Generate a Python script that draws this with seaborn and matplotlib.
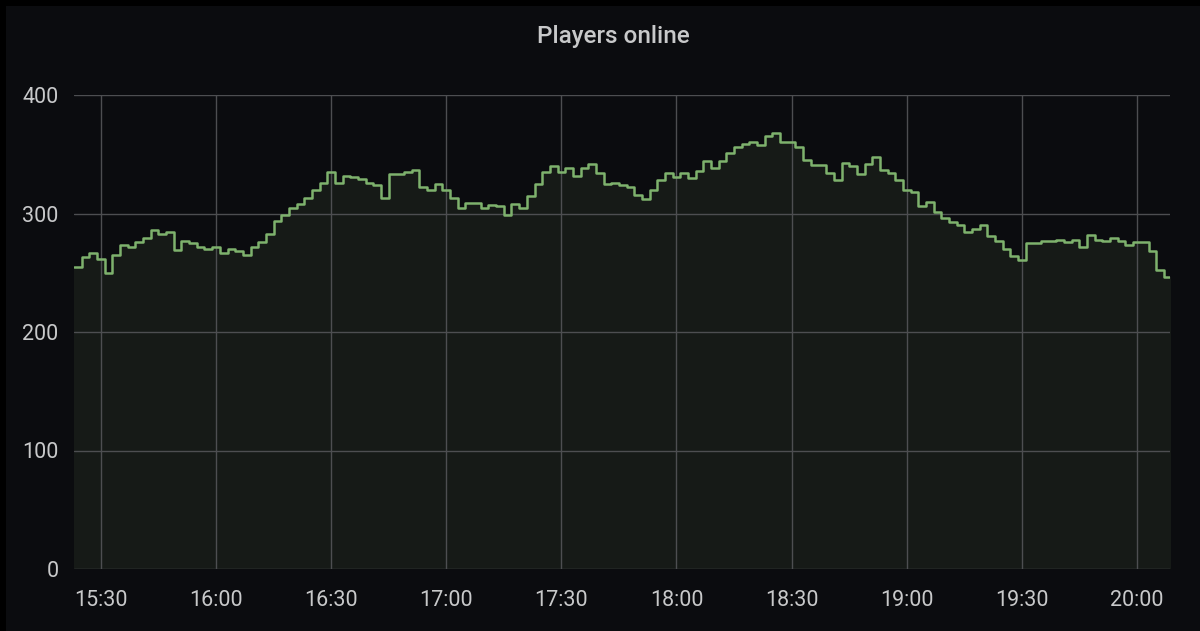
import numpy as np
import pandas as pd
import matplotlib
matplotlib.use("Agg")
import matplotlib.pyplot as plt
import matplotlib.dates as mdates
from matplotlib.patches import Rectangle
import seaborn as sns

# ---- data (players online, sampled every 2 minutes from 15:23) ----
start_time = "2024-01-01 15:23"
step_minutes = 2
players = [
    255, 263, 267, 262, 250, 265, 273, 272, 276, 279,
    286, 283, 284, 269, 277, 275, 272, 270, 272, 267,
    270, 268, 265, 272, 276, 283, 294, 299, 305, 308,
    313, 320, 326, 335, 326, 332, 331, 329, 326, 324,
    313, 333, 333, 335, 337, 322, 320, 325, 320, 313,
    305, 309, 309, 305, 307, 306, 299, 308, 305, 315,
    325, 335, 340, 335, 338, 332, 338, 342, 334, 325,
    326, 324, 322, 316, 312, 320, 328, 334, 331, 334,
    330, 336, 344, 338, 344, 351, 356, 359, 360, 358,
    365, 368, 360, 360, 356, 345, 341, 341, 334, 328,
    343, 340, 333, 342, 348, 337, 334, 328, 320, 318,
    306, 310, 301, 296, 293, 290, 284, 287, 290, 281,
    277, 270, 264, 261, 275, 275, 277, 277, 278, 276,
    278, 272, 282, 278, 277, 279, 277, 273, 276, 276,
    268, 252, 246, 242,
]
y_ticks = [0, 100, 200, 300, 400]
title_text = "Players online"

times = pd.date_range(start_time, periods=len(players), freq=f"{step_minutes}min")
df = pd.DataFrame({"time": times, "players": players})

BG = "#0b0c0f"
GRID = "#4d4e51"
TEXT = "#c8c9ca"
LINE = "#7eb26d"
FILL = "#161a17"

sns.set_theme(style="dark")
plt.rcParams["font.family"] = ["Roboto", "DejaVu Sans"]

fig = plt.figure(figsize=(12, 6.31), dpi=100, facecolor=BG)
# thin black frame around the panel (top and left)
fig.patches.append(Rectangle((0, 0), 6 / 1200, 1, transform=fig.transFigure,
                             facecolor="#000000", edgecolor="none", zorder=-10))
fig.patches.append(Rectangle((0, 1 - 6 / 631), 1, 6 / 631, transform=fig.transFigure,
                             facecolor="#000000", edgecolor="none", zorder=-10))
ax = fig.add_axes([74 / 1200, 1 - 569 / 631, (1170 - 74) / 1200, (569 - 95) / 631])
ax.set_facecolor(BG)

ax.fill_between(df["time"], df["players"], 0, step="post", color=FILL,
                linewidth=0, zorder=1)
sns.lineplot(data=df, x="time", y="players", ax=ax, color=LINE,
             linewidth=1.8, drawstyle="steps-post", zorder=3)

t_end = pd.Timestamp(start_time) + pd.Timedelta(minutes=285.6)
ax.set_xlim(times[0], t_end)
ax.set_ylim(0, 400)
ax.set_yticks(y_ticks)
ax.xaxis.set_major_locator(mdates.MinuteLocator(byminute=[0, 30]))
ax.xaxis.set_major_formatter(mdates.DateFormatter("%H:%M"))

ax.grid(True, color=GRID, linewidth=1.0, zorder=2)
ax.set_axisbelow(False)
for s in ax.spines.values():
    s.set_visible(False)
ax.tick_params(axis="both", colors=TEXT, labelsize=15.5, length=0)
ax.tick_params(axis="x", pad=15)
ax.tick_params(axis="y", pad=11)
ax.set_xlabel("")
ax.set_ylabel("")

fig.text(613 / 1200, 1 - 37 / 631, title_text, color=TEXT, fontsize=17.5,
         fontweight="medium", ha="center", va="center")

fig.savefig("out.png", dpi=100, facecolor=fig.get_facecolor())
